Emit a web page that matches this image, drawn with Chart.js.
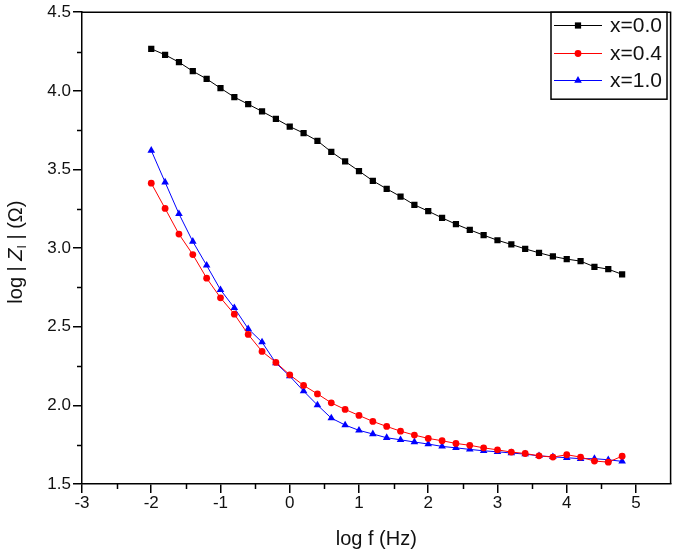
<!DOCTYPE html>
<html><head><meta charset="utf-8">
<script src="https://cdn.jsdelivr.net/npm/chart.js@4/dist/chart.umd.min.js"></script>
<style>html,body{margin:0;padding:0;background:#fff}#wrap{width:675px;height:557px;position:relative}</style>
</head><body><div id="wrap"><canvas id="c"></canvas></div>
<script>
// ---- data ----
const logF = [-2.0,-1.8,-1.6,-1.4,-1.2,-1.0,-0.8,-0.6,-0.4,-0.2,
  0.0,0.2,0.4,0.6,0.8,1.0,1.2,1.4,1.6,1.8,2.0,2.2,2.4,2.6,2.8,3.0,3.2,3.4,3.6,3.8,4.0,4.2,4.4,4.6,4.8];
const z00 = [4.267,4.229,4.182,4.125,4.076,4.017,3.960,3.915,3.869,3.822,
  3.773,3.731,3.682,3.612,3.551,3.490,3.428,3.377,3.328,3.275,3.235,3.192,3.152,3.116,3.082,3.050,3.023,2.995,2.970,2.947,2.930,2.917,2.881,2.866,2.833];
const z04 = [3.413,3.252,3.089,2.959,2.809,2.684,2.580,2.451,2.343,2.273,
  2.194,2.127,2.073,2.016,1.974,1.936,1.898,1.866,1.836,1.811,1.790,1.775,1.758,1.746,1.730,1.717,1.703,1.694,1.679,1.671,1.686,1.671,1.646,1.639,1.677];
const z10 = [3.621,3.419,3.218,3.042,2.890,2.735,2.620,2.487,2.402,2.269,
  2.186,2.091,2.002,1.919,1.875,1.841,1.818,1.794,1.781,1.767,1.754,1.739,1.730,1.720,1.711,1.705,1.697,1.690,1.679,1.673,1.667,1.661,1.661,1.654,1.644];
const seriesLabels = ['x=0.0','x=0.4','x=1.0'];
const xMinorTicks = [-2.5,-1.5,-0.5,0.5,1.5,2.5,3.5,4.5];
const yMinorTicks = [1.75,2.25,2.75,3.25,3.75,4.25];
const xTitle = 'log f (Hz)';
const yTitleParts = ['log | ', 'Z', 'I', ' | (\u03A9)'];

const FONT = "'Liberation Sans', Arial, sans-serif";
const pts = arr => logF.map((x, i) => ({x, y: arr[i]}));

const styles = [
  {color:'#000000', point:'rect', r:4.4},
  {color:'#ff0000', point:'circle', r:3.4},
  {color:'#0000ff', point:'triangle', r:4.4}
];
const datasets = [z00, z04, z10].map((arr, i) => ({
  label: seriesLabels[i],
  data: pts(arr),
  showLine: true,
  borderColor: styles[i].color,
  backgroundColor: styles[i].color,
  borderWidth: 1,
  pointStyle: styles[i].point,
  pointRadius: styles[i].r,
  pointBorderWidth: 0,
  pointHoverRadius: styles[i].r,
  tension: 0
}));

const extras = {
  id: 'extras',
  afterDraw(chart) {
    const {ctx, chartArea: a, scales: {x, y}} = chart;
    ctx.save();
    ctx.strokeStyle = '#000';
    ctx.lineWidth = 1.5;
    // top & right frame
    ctx.beginPath();
    ctx.moveTo(a.left, a.top); ctx.lineTo(a.right, a.top); ctx.lineTo(a.right, a.bottom);
    ctx.stroke();
    // minor ticks
    ctx.beginPath();
    xMinorTicks.forEach(v => { const p = Math.round(x.getPixelForValue(v)) + 0.5; ctx.moveTo(p, a.bottom); ctx.lineTo(p, a.bottom + 5); });
    yMinorTicks.forEach(v => { const p = Math.round(y.getPixelForValue(v)) + 0.5; ctx.moveTo(a.left, p); ctx.lineTo(a.left - 5, p); });
    ctx.stroke();

    // legend box
    const bx = 551, by = a.top, bw = 116, bh = 87;
    ctx.fillStyle = '#fff';
    ctx.fillRect(bx, by, bw, bh);
    ctx.strokeRect(bx, by, bw, bh);
    const rows = [25, 53, 80];
    chart.data.datasets.forEach((ds, i) => {
      const ry = rows[i];
      ctx.strokeStyle = ds.borderColor; ctx.lineWidth = 1;
      ctx.beginPath(); ctx.moveTo(554, ry + 0.5); ctx.lineTo(602, ry + 0.5); ctx.stroke();
      ctx.fillStyle = ds.backgroundColor;
      Chart.helpers.drawPoint(ctx, {pointStyle: ds.pointStyle, radius: ds.pointRadius, borderWidth: 0}, 578, ry + 0.5);
      ctx.fillStyle = '#111';
      ctx.font = '21px ' + FONT;
      ctx.textBaseline = 'middle'; ctx.textAlign = 'left';
      ctx.fillText(ds.label, 610, ry + 1);
    });

    // y axis title (rotated) with italic Z and subscript
    ctx.translate(16, (a.top + a.bottom) / 2 + 4);
    ctx.rotate(-Math.PI / 2);
    ctx.fillStyle = '#111';
    ctx.textBaseline = 'middle';
    const fNorm = '20px ' + FONT, fIt = 'italic 20px ' + FONT, fSub = '12px ' + FONT;
    const fonts = [fNorm, fIt, fSub, fNorm];
    let total = 0;
    const widths = yTitleParts.map((t, i) => { ctx.font = fonts[i]; const w = ctx.measureText(t).width; total += w; return w; });
    let cx = -total / 2;
    yTitleParts.forEach((t, i) => {
      ctx.font = fonts[i];
      ctx.textAlign = 'left';
      ctx.fillText(t, cx, i === 2 ? 7 : 0);
      cx += widths[i];
    });
    ctx.restore();
  }
};

new Chart(document.getElementById('c'), {
  type: 'scatter',
  data: { datasets },
  options: {
    responsive: true,
    maintainAspectRatio: false,
    animation: false,
    events: [],
    layout: { padding: { left: 0, top: 10, right: 3, bottom: 0 } },
    plugins: { legend: { display: false }, tooltip: { enabled: false } },
    scales: {
      x: {
        type: 'linear', min: -3, max: 5.5,
        afterFit: s => { s.height = 73; },
        ticks: { stepSize: 1, includeBounds: false, color: '#111', padding: 0,
          font: { family: FONT, size: 17 } },
        grid: { drawOnChartArea: false, drawTicks: true, tickLength: 9, tickColor: '#000', lineWidth: 1.5 },
        border: { display: true, color: '#000', width: 1.5 },
        title: { display: true, text: xTitle, color: '#111', font: { family: FONT, size: 20 }, padding: { top: 4, bottom: 6 } }
      },
      y: {
        type: 'linear', min: 1.5, max: 4.5,
        afterFit: s => { s.width = 82; },
        ticks: { stepSize: 0.5, color: '#111', padding: 2,
          font: { family: FONT, size: 17 }, callback: v => Number(v).toFixed(1) },
        grid: { drawOnChartArea: false, drawTicks: true, tickLength: 9, tickColor: '#000', lineWidth: 1.5 },
        border: { display: true, color: '#000', width: 1.5 }
      }
    }
  },
  plugins: [extras]
});
</script>
</body></html>
